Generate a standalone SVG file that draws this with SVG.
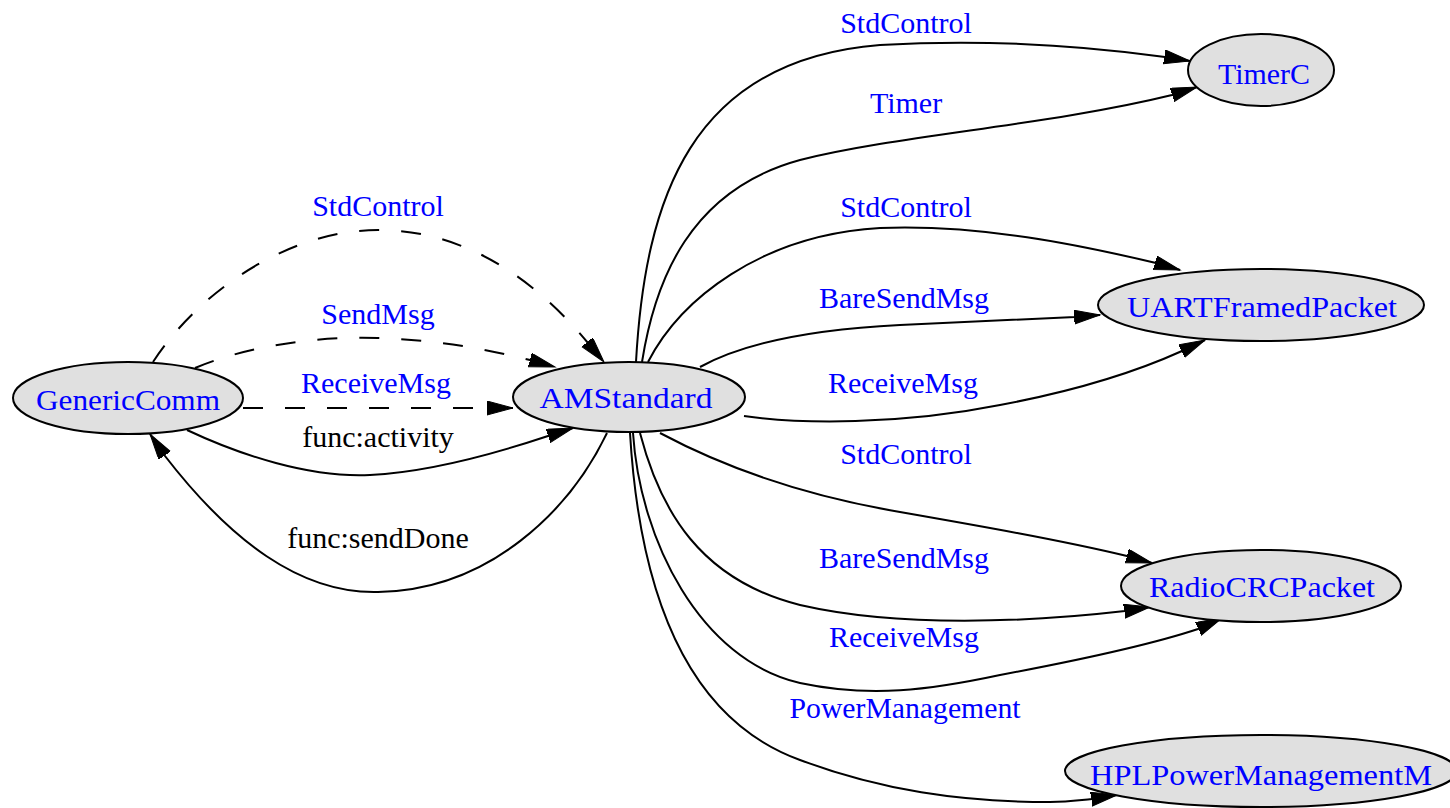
<svg xmlns="http://www.w3.org/2000/svg" width="1450" height="808" viewBox="0 0 1450 808">
<style>
.n ellipse{fill:#e0e0e0;stroke:#000;stroke-width:2}
text{font-family:"Liberation Serif","Times New Roman",serif;font-size:30px;text-anchor:middle}
.b{fill:#0000ff}
.k{fill:#000}
.e path{fill:none;stroke:#000;stroke-width:2;marker-end:url(#ah)}
.e path.d{stroke-dasharray:20,22}
</style>
<defs>
<marker id="ah" markerUnits="userSpaceOnUse" markerWidth="28" markerHeight="16" refX="26" refY="7" orient="auto" viewBox="0 0 28 16">
<path d="M0,0 L26,7 L0,14 z" fill="#000" stroke="#000" stroke-width="1"/>
</marker>
</defs>
<rect width="1450" height="808" fill="#fff"/>
<g id="connectors" class="e">
<path class="d" d="M153,362 C200,290 290,230 378,230 C470,230 540,285 588,343 L604,362"/>
<path class="d" d="M195,368 C250,345 320,336 378,338 C440,340 490,350 530,360 L555,367"/>
<path class="d" d="M243,408 L513,408"/>
<path d="M187,430 C240,455 310,478 370,475 C430,472 500,452 548,436 L573,428"/>
<path d="M607,433 C570,510 490,590 378,592 C300,594 230,540 165,456 L150,434"/>
<path d="M636,362 C645,200 690,60 880,45 C1000,38 1100,48 1165,57 L1190,61"/>
<path d="M642,362 C655,280 690,190 800,160 C900,135 1050,125 1172,95 L1197,87"/>
<path d="M648,362 C680,300 760,235 880,228 C980,224 1080,245 1156,263 L1180,270"/>
<path d="M700,367 C740,345 800,330 900,325 C980,321 1040,319 1075,317 L1100,315"/>
<path d="M744,416 C800,424 900,425 1000,405 C1080,390 1140,370 1182,351 L1205,340"/>
<path d="M660,433 C720,465 800,495 900,512 C980,526 1060,540 1127,556 L1152,563"/>
<path d="M640,433 C660,510 700,580 800,605 C900,628 1030,622 1125,611 L1150,607"/>
<path d="M633,433 C640,540 700,660 800,683 C870,698 930,690 1000,675 C1080,660 1150,645 1198,629 L1222,618"/>
<path d="M630,433 C640,600 690,720 800,760 C880,790 960,802 1050,802 C1070,802 1080,800 1092,799 L1117,795"/>
</g>
<g id="edge-labels">
<text class="b" x="378" y="216">StdControl</text>
<text class="b" x="378" y="324">SendMsg</text>
<text class="b" x="376" y="393">ReceiveMsg</text>
<text class="k" x="378" y="447">func:activity</text>
<text class="k" x="378" y="548">func:sendDone</text>
<text class="b" x="906" y="33">StdControl</text>
<text class="b" x="906" y="113">Timer</text>
<text class="b" x="906" y="217">StdControl</text>
<text class="b" x="904" y="308">BareSendMsg</text>
<text class="b" x="903" y="393">ReceiveMsg</text>
<text class="b" x="906" y="464">StdControl</text>
<text class="b" x="904" y="568">BareSendMsg</text>
<text class="b" x="904" y="647">ReceiveMsg</text>
<text class="b" x="905" y="718" textLength="231" lengthAdjust="spacingAndGlyphs">PowerManagement</text>
</g>
<g id="GenericComm" class="n"><ellipse cx="128" cy="398" rx="115" ry="36"/><text class="b" x="128" y="410" textLength="184" lengthAdjust="spacingAndGlyphs">GenericComm</text></g>
<g id="AMStandard" class="n"><ellipse cx="629" cy="397" rx="116" ry="35"/><text class="b" x="626" y="408" textLength="173" lengthAdjust="spacingAndGlyphs">AMStandard</text></g>
<g id="TimerC" class="n"><ellipse cx="1261" cy="70" rx="73" ry="36"/><text class="b" x="1264" y="84" textLength="92" lengthAdjust="spacingAndGlyphs">TimerC</text></g>
<g id="UARTFramedPacket" class="n"><ellipse cx="1261" cy="305" rx="163" ry="36"/><text class="b" x="1262" y="317" textLength="270" lengthAdjust="spacingAndGlyphs">UARTFramedPacket</text></g>
<g id="RadioCRCPacket" class="n"><ellipse cx="1261" cy="586" rx="140" ry="36"/><text class="b" x="1262" y="597" textLength="226" lengthAdjust="spacingAndGlyphs">RadioCRCPacket</text></g>
<g id="HPLPowerManagementM" class="n"><ellipse cx="1261" cy="771" rx="196" ry="36"/><text class="b" x="1261" y="785" textLength="342" lengthAdjust="spacingAndGlyphs">HPLPowerManagementM</text></g>
</svg>
